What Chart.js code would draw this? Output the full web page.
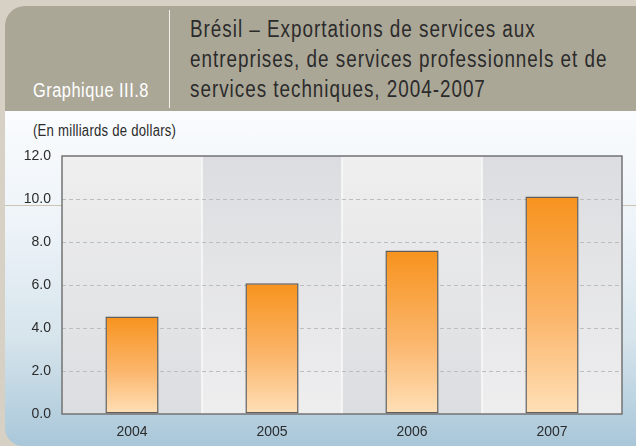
<!DOCTYPE html>
<html lang="fr">
<head>
<meta charset="utf-8">
<title>Graphique III.8</title>
<script src="https://cdn.jsdelivr.net/npm/chart.js@4.4.1/dist/chart.umd.min.js"></script>
<style>
  html, body { margin: 0; padding: 0; }
  body { width: 636px; height: 446px; position: relative; overflow: hidden; background: #d7d0c4; }
  /* police étroite simulée : Liberation Sans compressée horizontalement */
  .etroit { font-family: 'Liberation Sans', Arial, sans-serif; transform: scaleX(0.82); transform-origin: 0 0; white-space: nowrap; }
  #entete { position: absolute; left: 5px; top: 6px; width: 631px; height: 105px; background: #aba797; border-top-left-radius: 20px; }
  #corps { position: absolute; left: 5px; top: 111px; width: 631px; height: 335px; border-bottom-left-radius: 18px;
    background: linear-gradient(to bottom, #fafcfe 0%, #edf3f8 35%, #d6e4ec 68%, #a9c7d9 100%); }
  #separateur { position: absolute; left: 169px; top: 10px; width: 1px; height: 98px; background: #f2f0ea; }
  #numero { position: absolute; left: 33px; top: 80px; font-size: 20px; line-height: 20px; color: #fff; letter-spacing: 0.6px; }
  #titre { position: absolute; left: 190px; top: 14px; font-size: 23px; line-height: 30px; color: #2b2b2b; letter-spacing: 1.2px; }
  #unite { position: absolute; left: 33px; top: 123px; font-size: 16px; line-height: 16px; color: #2b2b2b; letter-spacing: 0.3px; }
  #filet { position: absolute; left: 5px; top: 205px; width: 631px; height: 1px; background: #cdc3b3; }
  #graphique { position: absolute; left: 0; top: 0; }
</style>
</head>
<body>
<div id="entete"></div>
<div id="corps"></div>
<div id="separateur"></div>
<div id="numero" class="etroit">Graphique III.8</div>
<div id="titre" class="etroit">Brésil – Exportations de services aux<br>entreprises, de services professionnels et de<br>services techniques, 2004-2007</div>
<div id="unite" class="etroit">(En milliards de dollars)</div>
<div id="filet"></div>
<canvas id="graphique" width="636" height="446"></canvas>
<script>
// Données (milliards de dollars)
const annees = ['2004', '2005', '2006', '2007'];
const exportations = [4.53, 6.08, 7.6, 10.12];
const graduations = [0, 2, 4, 6, 8, 10, 12];

const POLICE = "'Liberation Sans', Arial, sans-serif";

// Bandes grises alternées derrière chaque catégorie + cadre du graphique
const bandes = {
  id: 'bandes',
  beforeDraw(chart) {
    const { ctx, chartArea: a, scales: { x } } = chart;
    const w = x.width / annees.length;
    annees.forEach((_, i) => {
      const g = ctx.createLinearGradient(0, a.top, 0, a.bottom);
      if (i % 2 === 0) { g.addColorStop(0, '#efefef'); g.addColorStop(1, '#dcdde0'); }
      else { g.addColorStop(0, '#dcdde0'); g.addColorStop(1, '#eeeeef'); }
      const gauche = x.getPixelForValue(i) - w / 2;
      ctx.fillStyle = g;
      ctx.fillRect(gauche, a.top, w, a.bottom - a.top);
      if (i > 0) {
        ctx.fillStyle = '#fafafa';
        ctx.fillRect(gauche - 0.75, a.top, 1.5, a.bottom - a.top);
      }
    });
  },
  afterDatasetsDraw(chart) {
    const { ctx, chartArea: a } = chart;
    ctx.save();
    ctx.strokeStyle = '#737373';
    ctx.lineWidth = 1.5;
    ctx.strokeRect(a.left, a.top, a.right - a.left, a.bottom - a.top);
    ctx.restore();
  }
};

function degradeBarre(c) {
  const chart = c.chart;
  if (!chart.chartArea || c.raw === undefined) return '#f7931e';
  const y = chart.scales.y;
  const g = chart.ctx.createLinearGradient(0, y.getPixelForValue(c.raw), 0, y.getPixelForValue(0));
  g.addColorStop(0, '#f7931e');
  g.addColorStop(0.55, '#fbb56a');
  g.addColorStop(1, '#ffe0b8');
  return g;
}

new Chart(document.getElementById('graphique'), {
  type: 'bar',
  data: {
    labels: annees,
    datasets: [{
      data: exportations,
      backgroundColor: degradeBarre,
      borderColor: '#5e5e5e',
      borderWidth: 1.5,
      borderSkipped: false,
      barPercentage: 0.38,
      categoryPercentage: 1
    }]
  },
  options: {
    responsive: false,
    animation: false,
    layout: { padding: { top: 156, right: 14, bottom: 0, left: 0 } },
    plugins: { legend: { display: false }, tooltip: { enabled: false } },
    scales: {
      x: {
        grid: { display: false, drawTicks: false },
        border: { display: false },
        ticks: { color: '#2b2b2b', padding: 10, font: { family: POLICE, size: 14 } },
        afterFit: (s) => { s.height = 32; }
      },
      y: {
        min: 0,
        max: 12,
        afterBuildTicks: (s) => { s.ticks = graduations.map((v) => ({ value: v })); },
        grid: {
          drawTicks: false,
          color: (c) => (c.tick && (c.tick.value === 0 || c.tick.value === 12)) ? 'rgba(0,0,0,0)' : '#bdbdbd',
          lineWidth: 1
        },
        border: { display: false, dash: [4, 3] },
        ticks: {
          color: '#2b2b2b',
          padding: 11,
          font: { family: POLICE, size: 14 },
          callback: (v) => Number(v).toFixed(1)
        },
        afterFit: (s) => { s.width = 62; }
      }
    }
  },
  plugins: [bandes]
});
</script>
</body>
</html>
